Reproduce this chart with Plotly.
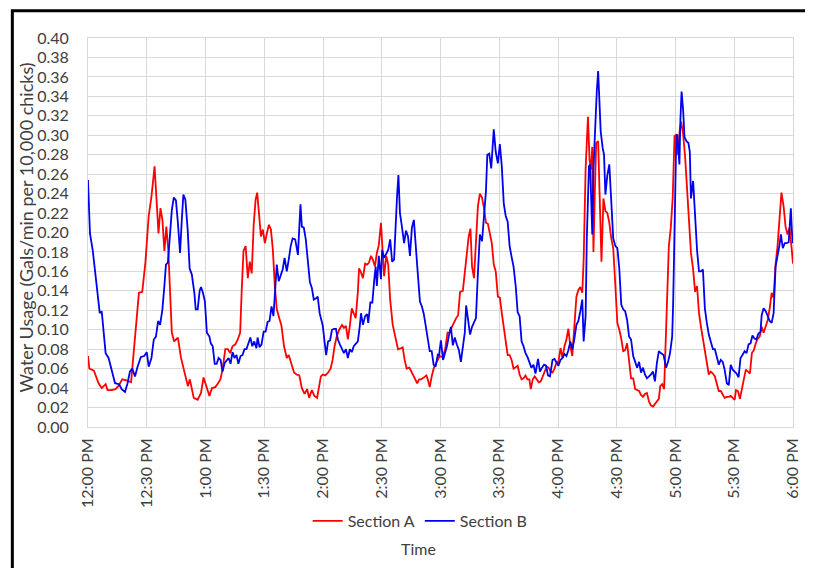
import plotly.graph_objects as go

# Minutes after 12:00 PM and water usage (Gals/min per 10,000 chicks)
section_a_minutes = [0, 0.7, 3, 5.4, 7, 9, 10, 12, 14, 15.5, 17.5, 19.7, 22, 23.6, 24.8, 26, 27.7, 29.3, 31, 32.4, 34, 35, 36, 37, 38, 39, 40, 41, 41.8, 42.8, 44, 45.9, 47.5, 49, 51, 52, 54, 56, 57.7, 59, 60.7, 62,
    63.3, 65, 66.4, 67.6, 68.7, 70.1, 71.4, 72.6, 73.8, 75.2, 76.5, 77.7, 78.5, 79.4, 80.5, 81.6, 82.6, 83.6, 84.6, 85.6, 86.4, 87.3, 88.3, 89.3, 90.3, 91.3, 92.4, 93.4, 94.4, 95.4, 96.4, 97.4, 98.8, 100.1, 101.5, 102.5, 103.8, 105.2, 106.5, 107.9, 109.2, 110.6, 111.9, 112.9, 114.3, 115.6, 117,
    118.9, 119.9, 121.2, 122.6, 123.9, 124.9, 125.9, 127, 128.3, 129.7, 130.7, 131.7, 132.7, 133.7, 134.7, 135.7, 136.7, 137.8, 138.4, 139.4, 140.4, 141.5, 142.5, 143.5, 144.5, 145.5, 146.5, 147.5, 148.5, 149.6, 150.2, 151.2, 152.3, 153.3, 154.3, 155.6, 157, 158.3, 159.7, 160.7, 161.7, 162.7, 164.1, 165.4, 166.8, 168.1, 169.1, 170.1, 171.5, 172.8, 173.5, 174.5, 175.5,
    176.5, 177.8, 179.6, 180.9, 182.3, 183.6, 184.6, 185.6, 186.7, 188, 189, 190, 191.4, 192.4, 193.4, 194.4, 195.3, 196.1, 197.1, 198.1, 199.1, 200.1, 201.2, 202.2, 203.2, 204.2, 205.2, 206.2, 207.2, 208.2, 209.3, 210.3, 211.3, 212.3, 213.3, 214.3, 215.3, 216.3, 217.3, 218.4, 219.4, 220.4, 221.4, 222.4, 223.4, 224.4, 225.4, 226.1, 227.1, 228.1, 229.2, 230.2, 231.2, 232.2, 233.2, 234.2, 235.2,
    236.2, 237.2, 238.2, 239.2, 240.2, 241.3, 242.3, 243.3, 244.3, 245.3, 246.3, 247.3, 248.3, 249.4, 250.4, 251.4, 252.4, 253.1, 254.1, 255.3, 256.1, 256.8, 257.5, 258.1, 258.8, 259.5, 260.5, 261.2, 262.2, 263.2, 264.2, 265.2, 266.2, 267.2, 268.2, 269.3, 270.3, 271.3, 272.3, 273.3, 274.3, 275.3, 276.3, 277.3, 278.4, 279.4, 280.4, 281.4, 282.4, 283.4, 284.4, 285.4, 286.5, 287.5, 288.5, 289.5, 290.5, 291.5, 292.2, 293.2, 294.2, 294.9, 295.6, 296.6, 297.6, 298.6,
    299.5, 300.5, 301.2, 302.2, 302.9, 303.9, 304.9, 305.9, 306.9, 307.9, 309, 310, 311, 312, 313, 314, 315, 316, 317, 318, 319.1, 320.1, 321.1, 322.1, 323.1, 324.1, 325.1, 326.2, 327.2, 328.2, 329.2, 330.2, 330.9, 331.9, 332.9, 333.9, 334.9, 335.9, 337, 338, 339, 340, 341, 342, 343, 344, 345, 346.1, 347.1, 348.1, 349.1, 350.1, 351.1, 352.1, 353.1, 354.1, 355.2, 356.2, 357.2, 358.2, 359.2, 360]
section_a_values = [0.073, 0.060, 0.058, 0.045, 0.040, 0.044, 0.038, 0.038, 0.039, 0.042, 0.049, 0.048, 0.046, 0.083, 0.117, 0.138, 0.139, 0.169, 0.217, 0.237, 0.268, 0.230, 0.199, 0.225, 0.213, 0.181, 0.206, 0.182, 0.148, 0.097, 0.088, 0.092, 0.071, 0.059, 0.042, 0.049, 0.030, 0.028, 0.035, 0.051, 0.040, 0.032,
    0.040, 0.041, 0.045, 0.049, 0.059, 0.080, 0.080, 0.076, 0.083, 0.085, 0.090, 0.097, 0.141, 0.181, 0.186, 0.153, 0.170, 0.158, 0.208, 0.234, 0.241, 0.223, 0.196, 0.203, 0.189, 0.199, 0.208, 0.203, 0.182, 0.145, 0.121, 0.114, 0.104, 0.083, 0.071, 0.074, 0.064, 0.056, 0.054, 0.053, 0.040, 0.034, 0.039, 0.030, 0.038, 0.032, 0.030,
    0.052, 0.054, 0.053, 0.056, 0.060, 0.069, 0.083, 0.093, 0.100, 0.105, 0.102, 0.104, 0.090, 0.104, 0.122, 0.117, 0.112, 0.139, 0.163, 0.159, 0.153, 0.168, 0.167, 0.169, 0.176, 0.172, 0.165, 0.179, 0.187, 0.210, 0.189, 0.155, 0.176, 0.167, 0.131, 0.105, 0.092, 0.080, 0.081, 0.082, 0.069, 0.060, 0.061, 0.056, 0.051, 0.045, 0.049, 0.049, 0.051, 0.053, 0.049, 0.041, 0.052,
    0.060, 0.066, 0.073, 0.072, 0.079, 0.097, 0.097, 0.102, 0.107, 0.112, 0.115, 0.139, 0.140, 0.157, 0.179, 0.196, 0.204, 0.165, 0.153, 0.196, 0.227, 0.240, 0.236, 0.225, 0.210, 0.209, 0.198, 0.189, 0.167, 0.160, 0.134, 0.133, 0.117, 0.102, 0.090, 0.074, 0.074, 0.069, 0.060, 0.062, 0.063, 0.054, 0.049, 0.050, 0.053, 0.049, 0.049, 0.039, 0.049, 0.052, 0.049, 0.046, 0.047, 0.052, 0.056, 0.062, 0.061,
    0.057, 0.056, 0.060, 0.066, 0.067, 0.081, 0.071, 0.083, 0.090, 0.101, 0.083, 0.073, 0.107, 0.134, 0.141, 0.144, 0.138, 0.172, 0.265, 0.319, 0.275, 0.265, 0.288, 0.180, 0.241, 0.292, 0.294, 0.241, 0.170, 0.235, 0.222, 0.220, 0.210, 0.194, 0.184, 0.145, 0.107, 0.100, 0.091, 0.078, 0.079, 0.086, 0.066, 0.050, 0.050, 0.039, 0.038, 0.037, 0.033, 0.031, 0.034, 0.035, 0.026, 0.022, 0.021, 0.024, 0.026, 0.029, 0.042, 0.044, 0.039, 0.083, 0.138, 0.186, 0.205, 0.237,
    0.299, 0.301, 0.280, 0.306, 0.314, 0.301, 0.278, 0.247, 0.217, 0.179, 0.162, 0.139, 0.145, 0.117, 0.103, 0.091, 0.080, 0.066, 0.054, 0.057, 0.055, 0.052, 0.045, 0.037, 0.037, 0.033, 0.030, 0.031, 0.031, 0.032, 0.030, 0.028, 0.038, 0.037, 0.029, 0.038, 0.049, 0.059, 0.057, 0.055, 0.076, 0.079, 0.086, 0.091, 0.093, 0.103, 0.097, 0.105, 0.110, 0.122, 0.138, 0.133, 0.167, 0.186, 0.213, 0.241, 0.227, 0.206, 0.198, 0.205, 0.186, 0.168]

section_b_minutes = [0, 1, 2.4, 3.7, 5, 6, 7, 8, 9, 10.5, 12, 13.8, 15.9, 17.2, 18.9, 20.2, 21.4, 22.6, 24, 25.3, 27, 28.7, 30, 31, 32.4, 33.6, 34.7, 35.8, 36.8, 38, 39, 39.8, 40.8, 41.8, 42.8, 43.8, 44.9, 45.9, 47, 47.9, 48.7, 49.7, 50.9, 51.9, 53, 54.3, 55, 56, 57, 57.7, 58.7, 59.7, 60.7,
    62, 62.7, 63.7, 64.7, 65.7, 66.7, 67.7, 68.7, 69.8, 70.8, 71.8, 72.8, 73.8, 74.8, 75.8, 76.8, 77.9, 78.9, 79.9, 80.9, 81.9, 82.9, 83.9, 84.9, 86, 86.6, 87.6, 88.6, 89.7, 90.7, 91.7, 92.7, 93.7, 94.7, 95.7, 96.4, 97.4, 98.4, 99.4, 100.4, 101.5, 102.5, 103.5, 104.5, 105.8, 107.2, 107.9, 108.5, 109.2, 110.2, 111.2, 112.2, 113.3, 114.3, 115.3, 116.3, 117.3, 118.3, 119.3,
    119.9, 120.9, 121.6, 122.6, 123.6, 124.6, 125.6, 126.6, 127.6, 128.6, 129.7, 130.7, 131.7, 132.7, 133.7, 134.7, 135.7, 136.7, 137.8, 138.8, 139.4, 140.4, 141.5, 142.5, 143.1, 144.2, 145.2, 146.2, 146.9, 147.5, 148.5, 149.6, 150.2, 151.2, 152.3, 153.3, 154.3, 155.3, 156.3, 157, 157.8, 158.5, 159.3, 160.3, 161.4, 162.4, 163.4, 164.4, 165.4, 166.4, 167.4, 168.4, 169.5, 170.5, 171.5, 172.5, 173.5, 174.5, 175.5, 176.5, 177.5, 178.6,
    179.2, 180.2, 181.3, 182.3, 183.3, 184.3, 185.3, 186.3, 187.3, 188.3, 189.4, 190.4, 191.4, 192.4, 193.1, 194.1, 195.1, 196.1, 197.1, 198.1, 199.1, 200.1, 201.2, 202.2, 203.2, 203.9, 204.9, 205.9, 206.6, 207.2, 208.2, 209.3, 210.3, 211.3, 212.3, 213.3, 214.3, 215.3, 216.3, 217.3, 218.4, 219.4, 220.4, 221.4, 222.4, 223.4, 224.4, 225.4, 226.4, 227.5, 228.5, 229.8, 230.8, 231.8, 232.9, 233.9, 234.9, 235.9,
    237.2, 238.2, 239.2, 240.2, 241.3, 242.3, 243.3, 244.3, 245.3, 246.3, 247.3, 248.3, 249.4, 250.4, 251.4, 252.4, 253.1, 254.1, 254.7, 255.8, 256.4, 257.5, 258.1, 259.1, 259.8, 260.5, 261.2, 261.8, 262.8, 263.5, 264.2, 265.2, 266.2, 267.2, 268.2, 269.3, 270.3, 271.3, 272.3, 273.3, 274.3, 275.3, 276.3, 277.3, 278.4, 279.4, 280.4, 281.4, 282.4, 283.4, 284.4, 285.4, 286.5, 287.5, 288.5, 289.5, 290.5, 291.5, 292.5, 293.9, 295.2, 296.2, 297.2, 298.3,
    298.8, 299.3, 299.8, 300.4, 300.9, 301.5, 302, 302.5, 303.1, 303.9, 304.6, 305.6, 306.6, 307.3, 307.9, 309, 310, 311, 312, 313, 314, 315, 316, 317, 318, 319.1, 320.1, 321.1, 322.1, 323.1, 324.1, 325.1, 326.2, 327.2, 328.2, 329.2, 330.2, 331.2, 332.2, 333.2, 334.2, 335.3, 336.3, 337.3, 338.3, 339.3, 340.3, 341.3, 342.3, 343.4, 344, 345, 346.1, 347.1, 348.1, 349.1, 350.1, 351.1, 352.1, 353.1, 353.8, 354.8, 355.8, 356.8, 357.8, 358.9, 359.5, 360]
section_b_values = [0.254, 0.199, 0.182, 0.158, 0.138, 0.117, 0.119, 0.097, 0.076, 0.071, 0.059, 0.045, 0.044, 0.039, 0.036, 0.045, 0.057, 0.060, 0.052, 0.062, 0.072, 0.073, 0.077, 0.062, 0.071, 0.090, 0.093, 0.109, 0.105, 0.121, 0.145, 0.167, 0.169, 0.196, 0.223, 0.236, 0.233, 0.210, 0.179, 0.213, 0.239, 0.234, 0.203, 0.163, 0.157, 0.138, 0.121, 0.121, 0.140, 0.144, 0.138, 0.129, 0.097,
    0.093, 0.086, 0.083, 0.065, 0.065, 0.071, 0.069, 0.057, 0.066, 0.069, 0.071, 0.065, 0.077, 0.071, 0.074, 0.065, 0.073, 0.074, 0.080, 0.080, 0.085, 0.092, 0.083, 0.088, 0.081, 0.092, 0.082, 0.085, 0.098, 0.098, 0.108, 0.109, 0.124, 0.114, 0.145, 0.167, 0.150, 0.157, 0.162, 0.174, 0.160, 0.172, 0.186, 0.194, 0.193, 0.177, 0.210, 0.229, 0.206, 0.205, 0.193, 0.172, 0.149, 0.143, 0.131, 0.132, 0.134, 0.117, 0.108,
    0.104, 0.086, 0.074, 0.088, 0.089, 0.100, 0.101, 0.101, 0.090, 0.085, 0.080, 0.076, 0.080, 0.071, 0.080, 0.077, 0.083, 0.085, 0.088, 0.104, 0.117, 0.105, 0.114, 0.116, 0.107, 0.128, 0.128, 0.152, 0.165, 0.145, 0.176, 0.152, 0.182, 0.174, 0.179, 0.182, 0.193, 0.170, 0.172, 0.206, 0.237, 0.259, 0.220, 0.206, 0.189, 0.202, 0.196, 0.176, 0.205, 0.213, 0.182, 0.158, 0.129, 0.124, 0.116, 0.102, 0.090, 0.078, 0.078, 0.064, 0.062, 0.074,
    0.073, 0.089, 0.069, 0.076, 0.083, 0.094, 0.103, 0.084, 0.092, 0.085, 0.079, 0.067, 0.083, 0.097, 0.125, 0.110, 0.095, 0.103, 0.107, 0.112, 0.158, 0.198, 0.191, 0.217, 0.242, 0.280, 0.281, 0.266, 0.290, 0.306, 0.283, 0.271, 0.291, 0.268, 0.230, 0.217, 0.211, 0.186, 0.175, 0.165, 0.145, 0.118, 0.114, 0.088, 0.083, 0.076, 0.072, 0.067, 0.061, 0.064, 0.055, 0.070, 0.057, 0.061, 0.064, 0.063, 0.053, 0.052,
    0.069, 0.070, 0.067, 0.063, 0.069, 0.071, 0.075, 0.073, 0.079, 0.088, 0.080, 0.090, 0.105, 0.109, 0.119, 0.131, 0.088, 0.114, 0.193, 0.268, 0.270, 0.198, 0.265, 0.318, 0.345, 0.366, 0.335, 0.304, 0.287, 0.280, 0.239, 0.259, 0.270, 0.237, 0.194, 0.186, 0.184, 0.163, 0.126, 0.121, 0.119, 0.110, 0.093, 0.090, 0.073, 0.067, 0.061, 0.067, 0.056, 0.061, 0.054, 0.050, 0.052, 0.054, 0.057, 0.047, 0.066, 0.078, 0.076, 0.074, 0.061, 0.067, 0.076, 0.093,
    0.127, 0.189, 0.265, 0.298, 0.301, 0.283, 0.270, 0.316, 0.345, 0.326, 0.298, 0.294, 0.292, 0.283, 0.235, 0.253, 0.217, 0.182, 0.160, 0.160, 0.162, 0.122, 0.107, 0.095, 0.088, 0.080, 0.080, 0.071, 0.064, 0.069, 0.067, 0.059, 0.045, 0.043, 0.064, 0.059, 0.057, 0.055, 0.051, 0.071, 0.074, 0.078, 0.076, 0.085, 0.086, 0.094, 0.091, 0.090, 0.096, 0.098, 0.115, 0.122, 0.119, 0.114, 0.109, 0.107, 0.117, 0.165, 0.175, 0.187, 0.198, 0.184, 0.189, 0.189, 0.190, 0.225, 0.199, 0.189]

tick_minutes = [0, 30, 60, 90, 120, 150, 180, 210, 240, 270, 300, 330, 360]
tick_labels = ["12:00 PM", "12:30 PM", "1:00 PM", "1:30 PM", "2:00 PM", "2:30 PM", "3:00 PM",
               "3:30 PM", "4:00 PM", "4:30 PM", "5:00 PM", "5:30 PM", "6:00 PM"]

FONT = "Lato"
TXT = "#404040"
GRID = "#d9d9d9"

fig = go.Figure()
fig.add_trace(go.Scatter(x=section_a_minutes, y=section_a_values, mode="lines", name="Section A",
                         line=dict(color="#FF0000", width=1.8)))
fig.add_trace(go.Scatter(x=section_b_minutes, y=section_b_values, mode="lines", name="Section B",
                         line=dict(color="#0000EE", width=1.8)))

# page offset of the figure (default body margin)
OFF = 8
W, H = 813 - OFF, 568 - OFF
L, R, T, B = 88 - OFF, 799 - OFF, 38 - OFF, 427 - OFF
pw, ph = R - L, B - T

def px(x):  # page pixel -> paper x
    return (x - OFF - L) / pw

def py(y):  # page pixel -> paper y
    return (B - (y - OFF)) / ph

fig.update_layout(
    width=W, height=H,
    margin=dict(l=L, r=W - R, t=T, b=H - B),
    paper_bgcolor="white", plot_bgcolor="white",
    font=dict(family=FONT, size=16, color=TXT),
    showlegend=True,
    legend=dict(orientation="h", x=px(423), xanchor="center", y=py(521), yanchor="middle",
                font=dict(size=16, color=TXT), itemwidth=30, bgcolor="rgba(0,0,0,0)"),
    xaxis=dict(range=[0, 360], tickvals=tick_minutes, ticktext=tick_labels, tickangle=-90,
               showgrid=True, gridcolor=GRID, gridwidth=1, zeroline=False,
               showline=True, linecolor=GRID, mirror=True, ticks="", ticklabelstandoff=4,
               tickfont=dict(size=16, color=TXT, family=FONT)),
    yaxis=dict(range=[0, 0.40], dtick=0.02, tick0=0, tickformat=".2f",
               showgrid=True, gridcolor=GRID, gridwidth=1, zeroline=False,
               showline=True, linecolor=GRID, mirror=True, ticks="", ticklabelstandoff=15,
               tickfont=dict(size=16, color=TXT, family=FONT)),
    annotations=[
        dict(text="Water Usage (Gals/min per 10,000 chicks)", xref="paper", yref="paper",
             x=px(25), y=py(228), textangle=-90, showarrow=False, xanchor="center", yanchor="middle",
             font=dict(size=18, color=TXT, family=FONT)),
        dict(text="Time", xref="paper", yref="paper", x=px(421), y=py(548), showarrow=False,
             xanchor="center", yanchor="middle", font=dict(size=16, color=TXT, family=FONT)),
    ],
    shapes=[dict(type="rect", xref="paper", yref="paper", x0=px(11.7), x1=px(830),
                 y0=py(600), y1=py(10.7), line=dict(color="black", width=3), fillcolor="rgba(0,0,0,0)",
                 layer="above")],
)

fig.write_html("out.html")
